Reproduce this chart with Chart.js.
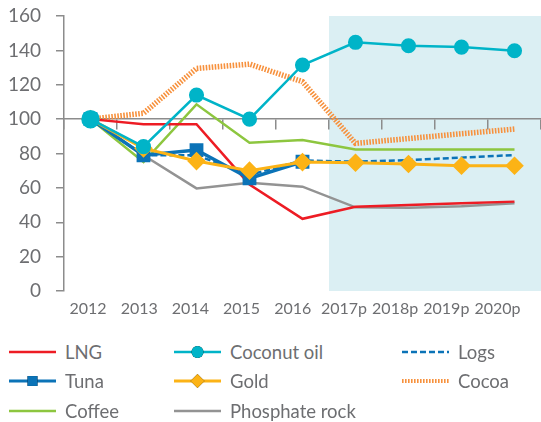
<!DOCTYPE html>
<html>
<head>
<meta charset="utf-8">
<script src="https://cdn.jsdelivr.net/npm/chart.js@4.4.0/dist/chart.umd.min.js"></script>
<style>
  html, body { margin: 0; padding: 0; background: #fff; }
  body { width: 541px; height: 422px; position: relative; overflow: hidden; font-family: Lato, sans-serif; }
  #wrap { position: absolute; left: 0; top: 0; width: 541px; height: 322px; }
  #legend { position: absolute; left: 9px; top: 337px; display: grid;
            grid-template-columns: 165px 228px auto; grid-auto-rows: 29.5px; }
  .item { display: flex; align-items: center; color: #6d6e71; font-size: 18.5px; white-space: nowrap; }
  .item canvas { margin-right: 9px; }
</style>
</head>
<body>
<div id="wrap"><canvas id="chart"></canvas></div>
<div id="legend"></div>
<script>
const years = ['2012', '2013', '2014', '2015', '2016', '2017p', '2018p', '2019p', '2020p'];
const lng = [100, 97, 97, 62, 42, 49, 50, 51, 52];
const coconutOil = [100, 84, 114, 100, 131.5, 144.7, 142.7, 141.9, 139.8];
const logs = [100, 79, 79, 67.5, 76, 75.2, 76.2, 77.6, 79.1];
const tuna = [100, 79, 82, 65.5, 75.2, null, null, null, null];
const gold = [100, 83, 75.6, 70, 75, 74.6, 73.9, 72.9, 72.9];
const cocoa = [100, 103.4, 129.5, 132, 121.8, 85.9, 88.7, 91.5, 94.2];
const coffee = [100, 75, 108.6, 86.3, 87.8, 82.4, 82.4, 82.4, 82.4];
const phosphateRock = [100, 79, 59.7, 63, 60.7, 48.7, 48.5, 49.3, 51];
const yTicks = [0, 20, 40, 60, 80, 100, 120, 140, 160];
const firstProjection = 5; // 2017p

const axisGrey = '#8c8c8c';
const textGrey = '#6d6e71';

// light blue box behind the projected years
const projectionBox = {
  id: 'projectionBox',
  beforeDraw(chart) {
    const x = chart.scales.x, a = chart.chartArea, c = chart.ctx;
    const left = (x.getPixelForValue(firstProjection - 1) + x.getPixelForValue(firstProjection)) / 2;
    c.save();
    c.fillStyle = '#dbeff3';
    c.fillRect(left, a.top, a.right - left, a.bottom - a.top);
    c.restore();
  }
};

const line = (label, data, color, extra) => Object.assign({
  label, data, borderColor: color, backgroundColor: color,
  borderWidth: 2.5, pointRadius: 0, pointHoverRadius: 0, tension: 0, fill: false
}, extra);

const datasets = [
  line('LNG', lng, '#ed1c24', { order: 5 }),
  line('Coconut oil', coconutOil, '#00b4c8', { order: 1, pointStyle: 'circle',
    pointRadius: ctx => ctx.dataIndex === 0 ? 8 : 6.3 }),
  line('Logs', logs, '#0b73b7', { order: 4, borderDash: [6, 3] }),
  line('Tuna', tuna, '#0b73b7', { order: 3, borderWidth: 3.5, pointStyle: 'rect', pointRadius: 7.3 }),
  line('Gold', gold, '#fcb316', { order: 2, borderWidth: 3, pointStyle: 'rectRot', pointRadius: 7.2 }),
  line('Cocoa', cocoa, '#f7913d', { order: 8, borderWidth: 5.5, borderDash: [1.6, 1.4], borderCapStyle: 'butt' }),
  line('Coffee', coffee, '#8dc63f', { order: 6 }),
  line('Phosphate rock', phosphateRock, '#939393', { order: 7 })
];

const noPad = s => { s.paddingLeft = 0; s.paddingRight = 0; s.paddingTop = 0; s.paddingBottom = 0; };

const chart = new Chart(document.getElementById('chart'), {
  type: 'line',
  data: { labels: years, datasets },
  options: {
    responsive: true,
    maintainAspectRatio: false,
    animation: false,
    layout: { autoPadding: false, padding: { top: 16, right: 0, left: 0, bottom: 0 } },
    plugins: { legend: { display: false }, tooltip: { enabled: false } },
    scales: {
      x: { type: 'category', display: false, offset: true },
      x100: {
        type: 'category', labels: years, offset: true, position: { y: 100 },
        afterFit: noPad,
        grid: { offset: true, drawOnChartArea: false, tickLength: 10, color: axisGrey, lineWidth: 1.5 },
        border: { color: axisGrey, width: 1.5 },
        ticks: { display: false }
      },
      xLabels: {
        type: 'linear', position: 'bottom', min: -0.469, max: 8.85,
        afterBuildTicks: s => { s.ticks = years.map((_, i) => ({ value: i })); },
        afterFit: s => { s.height = 31; noPad(s); },
        grid: { display: false, drawTicks: false },
        border: { display: false },
        ticks: { padding: 8, color: textGrey, font: { family: 'Lato', size: 16 },
                 maxRotation: 0, autoSkip: false, callback: v => years[v] }
      },
      y: {
        min: 0, max: 160,
        afterBuildTicks: s => { s.ticks = yTicks.map(v => ({ value: v })); },
        afterFit: s => { s.width = 64; noPad(s); },
        grid: { drawOnChartArea: false, tickLength: 8, color: axisGrey, lineWidth: 1.5 },
        border: { color: axisGrey, width: 1.5 },
        ticks: { padding: 15, color: textGrey, font: { family: 'Lato', size: 19 } }
      }
    }
  },
  plugins: [projectionBox]
});

// legend in three columns, samples drawn from the dataset styles
const legendOrder = ['LNG', 'Coconut oil', 'Logs', 'Tuna', 'Gold', 'Cocoa', 'Coffee', 'Phosphate rock'];
const legend = document.getElementById('legend');
legendOrder.forEach(name => {
  const ds = datasets.find(d => d.label === name);
  const item = document.createElement('div');
  item.className = 'item';
  const cv = document.createElement('canvas');
  cv.width = 47; cv.height = 20;
  const c = cv.getContext('2d');
  c.strokeStyle = ds.borderColor;
  c.lineWidth = name === 'Cocoa' ? 4 : Math.min(ds.borderWidth, 3);
  c.setLineDash(ds.borderDash || []);
  c.beginPath(); c.moveTo(0, 10); c.lineTo(47, 10); c.stroke();
  c.setLineDash([]);
  if (ds.pointStyle) {
    const r = name === 'Coconut oil' ? 6 : 7;
    Chart.helpers.drawPoint(c, { pointStyle: ds.pointStyle, radius: r, borderWidth: 0, rotation: 0 }, 23.5, 10);
    c.fillStyle = ds.backgroundColor;
    c.fill();
  }
  const t = document.createElement('span');
  t.textContent = name;
  item.appendChild(cv); item.appendChild(t);
  legend.appendChild(item);
});
</script>
</body>
</html>
